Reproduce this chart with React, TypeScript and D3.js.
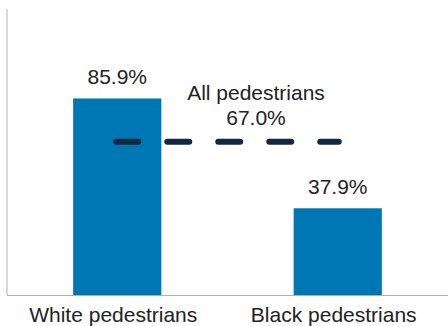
import React from "react";
import * as d3 from "d3";

const categories = ["White pedestrians", "Black pedestrians"];
const values = [85.9, 37.9];
const overallLabel = "All pedestrians";
const overallValue = 67.0;

const W = 448;
const H = 326;
const left = 7;
const right = 448;
const top = 9;
const bottom = 295;

export default function App() {
  const x = d3
    .scaleBand<string>()
    .domain(categories)
    .range([left, right])
    .paddingInner(0.6)
    .paddingOuter(0.3);
  const y = d3.scaleLinear().domain([0, 125]).range([bottom, top]);
  const bw = x.bandwidth();
  const fmt = (v: number) => v.toFixed(1) + "%";
  const font = "'Liberation Sans', Arial, Helvetica, sans-serif";
  const x1 = (x(categories[0]) as number) + bw / 2 - 1;
  const x2 = (x(categories[1]) as number) + bw / 2 + 1;
  const yl = y(overallValue);

  return (
    <svg
      width={W}
      height={H}
      style={{ position: "absolute", left: 0, top: 0, background: "#fff" }}
      fontFamily={font}
    >
      <line x1={left} x2={left} y1={top} y2={bottom} stroke="#b0b0b0" strokeWidth={1} />
      <line x1={left} x2={right} y1={bottom + 0.5} y2={bottom + 0.5} stroke="#b0b0b0" strokeWidth={1} />
      {categories.map((c, i) => (
        <g key={c}>
          <rect
            x={x(c)}
            y={y(values[i])}
            width={bw}
            height={bottom - y(values[i])}
            fill="#0077b5"
          />
          <text
            x={(x(c) as number) + bw / 2}
            y={y(values[i]) - 14}
            textAnchor="middle"
            fontSize={21}
            fill="#222"
          >
            {fmt(values[i])}
          </text>
          <text
            x={(x(c) as number) + bw / 2 - 4}
            y={322}
            textAnchor="middle"
            fontSize={21}
            fill="#222"
          >
            {c}
          </text>
        </g>
      ))}
      <line
        x1={x1}
        x2={x2}
        y1={yl}
        y2={yl}
        stroke="#10293f"
        strokeWidth={6}
        strokeLinecap="round"
        strokeDasharray="22,29"
      />
      <text x={256} y={100} textAnchor="middle" fontSize={21} fill="#222">
        {overallLabel}
      </text>
      <text x={256} y={125} textAnchor="middle" fontSize={21} fill="#222">
        {fmt(overallValue)}
      </text>
    </svg>
  );
}
